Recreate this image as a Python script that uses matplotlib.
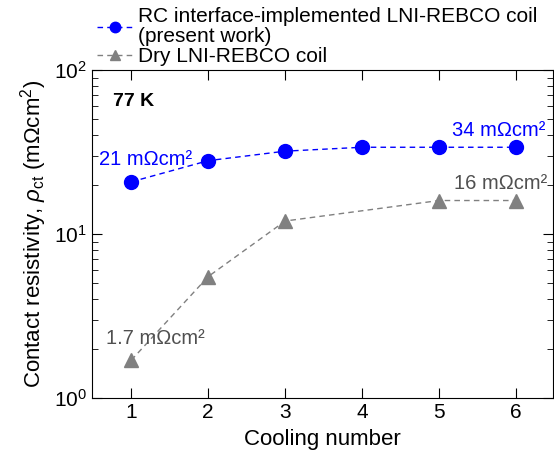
import matplotlib.pyplot as plt
from matplotlib.ticker import LogLocator, NullFormatter

plt.rcParams['font.family'] = ['Liberation Sans', 'DejaVu Sans']
plt.rcParams['mathtext.fontset'] = 'custom'
plt.rcParams['mathtext.rm'] = 'Liberation Sans'
plt.rcParams['mathtext.it'] = 'Liberation Sans:italic'

# data
cooling_rc = [1, 2, 3, 4, 5, 6]
rho_rc = [20.8, 28, 32, 33.8, 33.8, 33.8]
cooling_dry = [1, 2, 3, 5, 6]
rho_dry = [1.7, 5.5, 12, 16, 16]

fig = plt.figure(figsize=(5.54, 4.54), dpi=100)
ax = fig.add_axes([92 / 554, 56 / 454, 461 / 554, 328 / 454])

ax.plot(cooling_rc, rho_rc, 'o--', color='#0000ff', ms=10, lw=1, dashes=(4, 3),
        label='RC interface-implemented LNI-REBCO coil\n(present work)')
ax.plot(cooling_dry, rho_dry, '^--', color='#808080', ms=10.5, lw=1, dashes=(4, 3),
        label='Dry LNI-REBCO coil')

ax.set_yscale('log')
ax.set_ylim(1, 100)
ax.set_xlim(0.49, 6.48)
ax.set_xticks([1, 2, 3, 4, 5, 6])
ax.yaxis.set_minor_locator(LogLocator(base=10, subs=range(2, 10)))
ax.yaxis.set_minor_formatter(NullFormatter())
ax.tick_params(which='both', direction='in', top=True, right=True, labelsize=15)
ax.tick_params(which='major', length=7)
ax.tick_params(which='minor', length=4)
ax.tick_params(axis='x', which='minor', top=False, bottom=False)

ax.set_xlabel('Cooling number', fontsize=16, labelpad=5)
ax.set_ylabel(r'Contact resistivity, $\rho_{\rm ct}$ (m$\Omega$cm$^2$)', fontsize=16)

ax.text(0.046, 0.905, '77 K', transform=ax.transAxes, fontsize=14, fontweight='bold',
        va='center')
ax.text(1.19, 28.3, '21 mΩcm²', color='#0000ff', fontsize=14.5, ha='center', va='center')
ax.text(5.78, 42.5, '34 mΩcm²', color='#0000ff', fontsize=14.5, ha='center', va='center')
ax.text(5.80, 20.2, '16 mΩcm²', color='#505050', fontsize=14.5, ha='center', va='center')
ax.text(1.31, 2.32, '1.7 mΩcm²', color='#505050', fontsize=14.5, ha='center', va='center')

leg = fig.legend(loc='upper left', bbox_to_anchor=(93 / 554, 1 - 3 / 454), frameon=False,
                 fontsize=15, handlelength=1.7, handletextpad=0.25, labelspacing=0.05,
                 borderpad=0.2, borderaxespad=0.0, markerscale=0.75)
for t in leg.get_texts():
    t.set_linespacing(1.05)

fig.savefig('out.png', dpi=100)
